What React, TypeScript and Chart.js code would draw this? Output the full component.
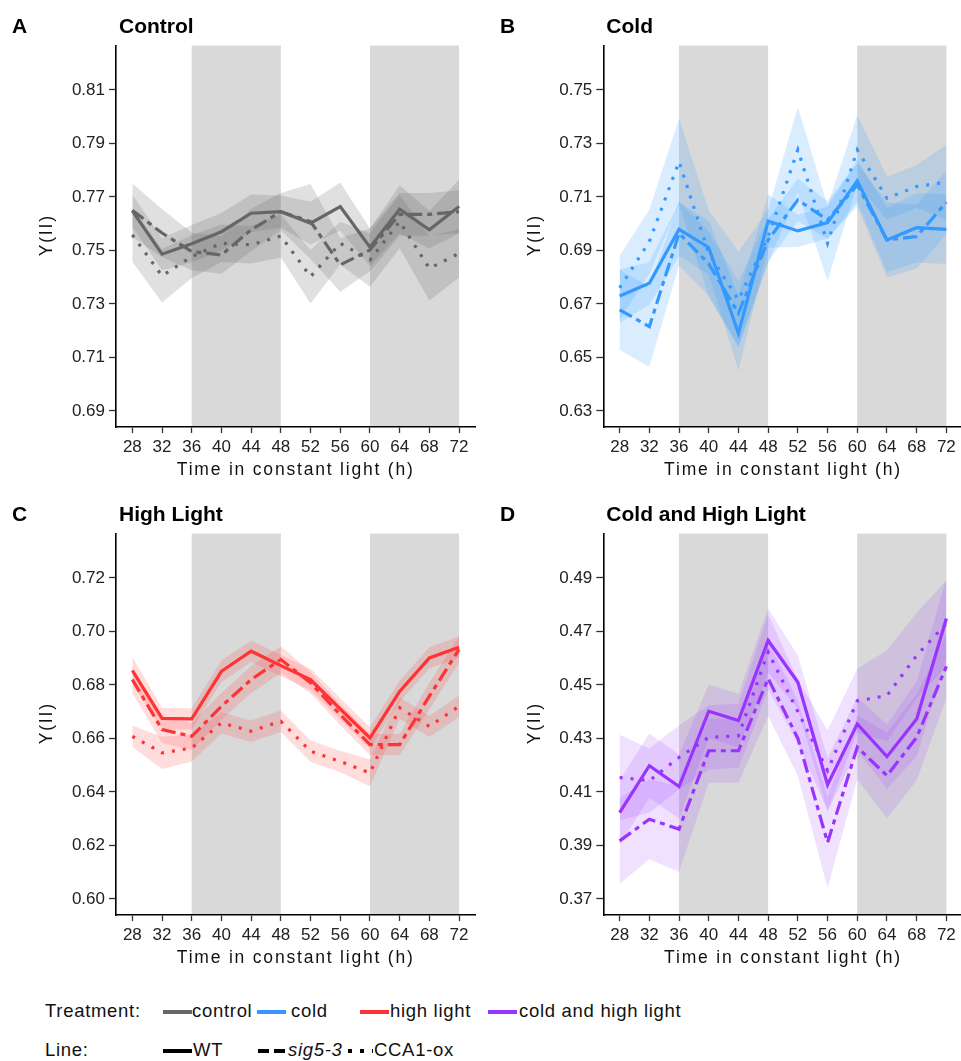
import React, { useEffect, useRef } from "react";
import { Chart, registerables } from "chart.js";
Chart.register(...registerables);

// ---------- data ----------
const hours = [28, 32, 36, 40, 44, 48, 52, 56, 60, 64, 68, 72];
const xTickValues = [28, 32, 36, 40, 44, 48, 52, 56, 60, 64, 68, 72];
const xRange = [25.8, 74.2];
const darkBandStarts = [36, 60];
const darkBandEnds = [48, 72];

// Control
const controlWT = [0.7648, 0.7486, 0.7525, 0.757, 0.7639, 0.7645, 0.7602, 0.7664, 0.7512, 0.7654, 0.7577, 0.7664];
const controlSig = [0.765, 0.7565, 0.7496, 0.7483, 0.7577, 0.7645, 0.7608, 0.7446, 0.7502, 0.7635, 0.7635, 0.7645];
const controlCCA = [0.7558, 0.7405, 0.7477, 0.7527, 0.7521, 0.7554, 0.7402, 0.7527, 0.7464, 0.7608, 0.7433, 0.7489];
const controlWTse = [0.006, 0.006, 0.007, 0.007, 0.007, 0.006, 0.008, 0.009, 0.007, 0.009, 0.007, 0.01];
const controlSigSe = [0.01, 0.009, 0.007, 0.007, 0.008, 0.007, 0.014, 0.01, 0.008, 0.008, 0.008, 0.008];
const controlCCAse = [0.01, 0.01, 0.008, 0.007, 0.007, 0.008, 0.01, 0.008, 0.01, 0.01, 0.012, 0.009];
const yTicksControl = [0.69, 0.71, 0.73, 0.75, 0.77, 0.79, 0.81];
const yRangeControl = [0.684, 0.8266];

// Cold
const coldWT = [0.673, 0.6777, 0.6979, 0.6911, 0.659, 0.701, 0.6973, 0.7004, 0.716, 0.6939, 0.6985, 0.6979];
const coldSig = [0.6678, 0.6615, 0.6964, 0.685, 0.6665, 0.6939, 0.7089, 0.7014, 0.7145, 0.6939, 0.6952, 0.708];
const coldCCA = [0.676, 0.6933, 0.7232, 0.6889, 0.6715, 0.6952, 0.7276, 0.6927, 0.7276, 0.7095, 0.7139, 0.7155];
const coldWTse = [0.01, 0.008, 0.01, 0.01, 0.014, 0.01, 0.006, 0.006, 0.008, 0.012, 0.013, 0.013];
const coldSigSe = [0.015, 0.015, 0.012, 0.012, 0.012, 0.008, 0.008, 0.007, 0.008, 0.014, 0.012, 0.012];
const coldCCAse = [0.012, 0.012, 0.016, 0.016, 0.018, 0.01, 0.016, 0.014, 0.013, 0.008, 0.008, 0.014];
const yTicksCold = [0.63, 0.65, 0.67, 0.69, 0.71, 0.73, 0.75];
const yRangeCold = [0.624, 0.7666];

// High light
const highWT = [0.6854, 0.6675, 0.6673, 0.6851, 0.6926, 0.6872, 0.682, 0.671, 0.6602, 0.6776, 0.6901, 0.6941];
const highSig = [0.682, 0.6633, 0.6608, 0.672, 0.682, 0.6895, 0.6808, 0.6689, 0.6577, 0.6577, 0.6758, 0.6933];
const highCCA = [0.6608, 0.6546, 0.6564, 0.6658, 0.6627, 0.6664, 0.6552, 0.6514, 0.6471, 0.6714, 0.6645, 0.672];
const highWTse = [0.005, 0.004, 0.004, 0.004, 0.004, 0.004, 0.004, 0.004, 0.004, 0.004, 0.004, 0.004];
const highSigSe = [0.005, 0.005, 0.005, 0.005, 0.005, 0.005, 0.004, 0.004, 0.004, 0.004, 0.005, 0.005];
const highCCAse = [0.004, 0.006, 0.005, 0.004, 0.004, 0.004, 0.004, 0.004, 0.005, 0.004, 0.004, 0.004];
const yTicksHigh = [0.6, 0.62, 0.64, 0.66, 0.68, 0.7, 0.72];
const yRangeHigh = [0.594, 0.7366];

// Cold and high light
const coldHighWT = [0.4023, 0.4198, 0.412, 0.4402, 0.4367, 0.4666, 0.451, 0.4127, 0.4354, 0.4232, 0.4373, 0.4748];
const coldHighSig = [0.3917, 0.3998, 0.3961, 0.4254, 0.4254, 0.4524, 0.43, 0.3911, 0.4267, 0.4161, 0.4304, 0.4569];
const coldHighCCA = [0.4154, 0.4142, 0.4229, 0.4304, 0.431, 0.4623, 0.44, 0.418, 0.444, 0.446, 0.461, 0.473];
const coldHighWTse = [0.012, 0.012, 0.012, 0.01, 0.01, 0.012, 0.01, 0.01, 0.01, 0.012, 0.014, 0.015];
const coldHighSigSe = [0.016, 0.015, 0.016, 0.012, 0.012, 0.014, 0.014, 0.017, 0.012, 0.016, 0.016, 0.012];
const coldHighCCAse = [0.016, 0.012, 0.012, 0.012, 0.012, 0.014, 0.012, 0.015, 0.012, 0.017, 0.016, 0.016];
const yTicksColdHigh = [0.37, 0.39, 0.41, 0.43, 0.45, 0.47, 0.49];
const yRangeColdHigh = [0.364, 0.5066];

const treatmentLabels = ["control", "cold", "high light", "cold and high light"];
const treatmentColors = ["#666666", "#3399FF", "#FF3333", "#9933FF"];
const treatmentFills = ["rgba(102,102,102,0.2)", "rgba(51,153,255,0.18)", "rgba(255,51,51,0.17)", "rgba(153,51,255,0.15)"];
const lineLabels = ["WT", "sig5-3", "CCA1-ox"];

const FONT = '"Liberation Sans", Arial, Helvetica, sans-serif';
const lineDashes = [[], [14, 5, 5, 5], [3, 8]];

type PanelProps = {
  left: number;
  top: number;
  letter: string;
  title: string;
  color: string;
  fill: string;
  means: number[][];
  ses: number[][];
  yTicks: number[];
  yRange: number[];
  yAxisWidth: number;
  padRight: number;
};

function Panel(p: PanelProps) {
  const ref = useRef<HTMLCanvasElement>(null);
  useEffect(() => {
    const canvas = ref.current;
    if (!canvas) return;
    const datasets: any[] = [];
    p.means.forEach((m, si) => {
      const se = p.ses[si];
      datasets.push({
        data: hours.map((h, i) => ({ x: h, y: m[i] - se[i] })),
        borderWidth: 0,
        pointRadius: 0,
        fill: false,
        order: 2,
      });
      datasets.push({
        data: hours.map((h, i) => ({ x: h, y: m[i] + se[i] })),
        borderWidth: 0,
        pointRadius: 0,
        fill: "-1",
        backgroundColor: p.fill,
        order: 2,
      });
    });
    p.means.forEach((m, si) => {
      datasets.push({
        data: hours.map((h, i) => ({ x: h, y: m[i] })),
        borderColor: p.color,
        borderWidth: 3.2,
        borderDash: lineDashes[si],
        borderCapStyle: "butt",
        borderJoinStyle: "miter",
        pointRadius: 0,
        fill: false,
        order: 1,
        tension: 0,
      });
    });

    const decor = {
      id: "decor",
      beforeDatasetsDraw(chart: any) {
        const { ctx, chartArea, scales } = chart;
        ctx.save();
        ctx.fillStyle = "#d9d9d9";
        darkBandStarts.forEach((s, i) => {
          const x0 = scales.x.getPixelForValue(s);
          const x1 = scales.x.getPixelForValue(darkBandEnds[i]);
          ctx.fillRect(x0, chartArea.top, x1 - x0, chartArea.bottom - chartArea.top - 1);
        });
        ctx.restore();
      },
      afterDraw(chart: any) {
        const { ctx, chartArea } = chart;
        ctx.save();
        ctx.fillStyle = "#000";
        ctx.textBaseline = "middle";
        ctx.textAlign = "left";
        ctx.font = `bold 21px ${FONT}`;
        ctx.fillText(p.letter, 12, 27.5);
        ctx.fillText(p.title, chartArea.left + 3, 27.5);
        ctx.font = `17.5px ${FONT}`;
        ctx.fillStyle = "#111";
        (ctx as any).letterSpacing = "1.8px";
        ctx.textAlign = "center";
        ctx.fillText("Time in constant light (h)", (chartArea.left + chartArea.right) / 2, 470);
        ctx.translate(47, (chartArea.top + chartArea.bottom) / 2);
        ctx.rotate(-Math.PI / 2);
        ctx.fillText("Y(II)", 1, 0);
        ctx.restore();
      },
    };

    const chart = new Chart(canvas, {
      type: "line",
      data: { datasets },
      options: {
        animation: false,
        responsive: false,
        devicePixelRatio: 1,
        layout: { padding: { top: 45.5, right: p.padRight, left: 0, bottom: 0 } },
        plugins: { legend: { display: false }, tooltip: { enabled: false }, title: { display: false } },
        scales: {
          x: {
            type: "linear",
            min: xRange[0],
            max: xRange[1],
            afterBuildTicks: (s: any) => {
              s.ticks = xTickValues.map((v) => ({ value: v }));
            },
            afterFit: (s: any) => {
              s.height = 63;
            },
            ticks: {
              autoSkip: false,
              maxRotation: 0,
              padding: 4,
              color: "#222",
              font: { family: FONT, size: 17 },
              callback: (v: any) => String(v),
            },
            grid: { drawOnChartArea: false, drawTicks: true, tickLength: 6, tickColor: "#333", tickWidth: 1.3 },
            border: { display: true, color: "#000", width: 1.6 },
          },
          y: {
            type: "linear",
            min: p.yRange[0],
            max: p.yRange[1],
            afterBuildTicks: (s: any) => {
              s.ticks = p.yTicks.map((v) => ({ value: v }));
            },
            afterFit: (s: any) => {
              s.width = p.yAxisWidth;
            },
            ticks: {
              padding: 4,
              color: "#222",
              font: { family: FONT, size: 17 },
              callback: (v: any) => Number(v).toFixed(2),
            },
            grid: { drawOnChartArea: false, drawTicks: true, tickLength: 7, tickColor: "#333", tickWidth: 1.3 },
            border: { display: true, color: "#000", width: 1.6 },
          },
        },
      } as any,
      plugins: [decor],
    });
    return () => chart.destroy();
  }, []);
  return (
    <div style={{ position: "absolute", left: p.left, top: p.top, width: 480, height: 490 }}>
      <canvas ref={ref} width={480} height={490} />
    </div>
  );
}

function Legend() {
  const rowT = 1011;
  const rowL = 1050;
  const tSw = [163, 257, 360, 488];
  const tTx = [192, 291, 390, 519];
  const lSw = [163, 258, 348];
  const lSwEnd = [192, 286, 373];
  const lTx = [193, 288, 374];
  const svgDash = ["", "11 5", "4 8"];
  const textStyle = (left: number, cy: number, italic = false): React.CSSProperties => ({
    position: "absolute",
    left,
    top: cy - 12,
    height: 24,
    lineHeight: "24px",
    fontFamily: FONT,
    fontSize: 18.5,
    letterSpacing: "0.7px",
    color: "#111",
    whiteSpace: "nowrap",
    fontStyle: italic ? "italic" : "normal",
  });
  return (
    <>
      <svg style={{ position: "absolute", left: 0, top: 990 }} width={961} height={71}>
        {treatmentColors.map((c, i) => (
          <line key={c} x1={tSw[i]} x2={tSw[i] + 29} y1={rowT - 990 + 1} y2={rowT - 990 + 1} stroke={c} strokeWidth={4} />
        ))}
        {lineLabels.map((l, i) => (
          <line
            key={l}
            x1={lSw[i]}
            x2={lSwEnd[i]}
            y1={rowL - 990 + 1}
            y2={rowL - 990 + 1}
            stroke="#000"
            strokeWidth={4}
            strokeDasharray={svgDash[i] || undefined}
          />
        ))}
      </svg>
      <div style={textStyle(45, rowT)}>Treatment:</div>
      {treatmentLabels.map((t, i) => (
        <div key={t} style={textStyle(tTx[i], rowT)}>
          {t}
        </div>
      ))}
      <div style={textStyle(45, rowL)}>Line:</div>
      {lineLabels.map((t, i) => (
        <div key={t} style={textStyle(lTx[i], rowL, i === 1)}>
          {t}
        </div>
      ))}
    </>
  );
}

export default function App() {
  return (
    <div
      style={{
        position: "absolute",
        left: 0,
        top: 0,
        width: 961,
        height: 1061,
        overflow: "hidden",
        background: "#fff",
      }}
    >
      <Panel
        left={0}
        top={0}
        letter="A"
        title="Control"
        color={treatmentColors[0]}
        fill={treatmentFills[0]}
        means={[controlWT, controlSig, controlCCA]}
        ses={[controlWTse, controlSigSe, controlCCAse]}
        yTicks={yTicksControl}
        yRange={yRangeControl}
        yAxisWidth={116}
        padRight={4.6}
      />
      <Panel
        left={488}
        top={0}
        letter="B"
        title="Cold"
        color={treatmentColors[1]}
        fill={treatmentFills[1]}
        means={[coldWT, coldSig, coldCCA]}
        ses={[coldWTse, coldSigSe, coldCCAse]}
        yTicks={yTicksCold}
        yRange={yRangeCold}
        yAxisWidth={115.3}
        padRight={5.3}
      />
      <Panel
        left={0}
        top={488}
        letter="C"
        title="High Light"
        color={treatmentColors[2]}
        fill={treatmentFills[2]}
        means={[highWT, highSig, highCCA]}
        ses={[highWTse, highSigSe, highCCAse]}
        yTicks={yTicksHigh}
        yRange={yRangeHigh}
        yAxisWidth={116}
        padRight={4.6}
      />
      <Panel
        left={488}
        top={488}
        letter="D"
        title="Cold and High Light"
        color={treatmentColors[3]}
        fill={treatmentFills[3]}
        means={[coldHighWT, coldHighSig, coldHighCCA]}
        ses={[coldHighWTse, coldHighSigSe, coldHighCCAse]}
        yTicks={yTicksColdHigh}
        yRange={yRangeColdHigh}
        yAxisWidth={115.3}
        padRight={5.3}
      />
      <Legend />
    </div>
  );
}
